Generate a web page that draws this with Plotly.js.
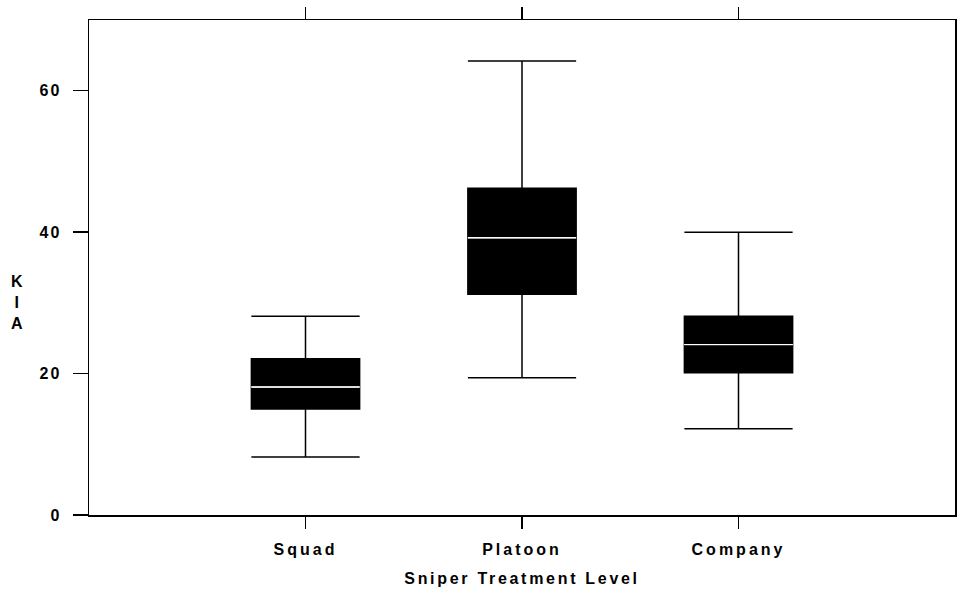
<!DOCTYPE html>
<html>
<head>
<meta charset="utf-8">
<script src="https://cdn.plot.ly/plotly-3.0.1.min.js"></script>
<style>
html,body{margin:0;padding:0;background:#fff;}
#chart{width:957px;height:597px;}
.xtick text{letter-spacing:3px;}
.g-xtitle text{letter-spacing:2.7px;}
.ytick text{letter-spacing:2px;}
</style>
</head>
<body>
<div id="chart"></div>
<script>
// Data
var categories = ["Squad", "Platoon", "Company"];
var lowerWhisker = [8.2, 19.4, 12.2];
var q1Values = [15.0, 31.2, 20.1];
var medianValues = [18.1, 39.2, 24.1];
var q3Values = [22.1, 46.2, 28.1];
var upperWhisker = [28.1, 64.2, 40.0];
var yTickValues = [0, 20, 40, 60];
var xTitle = "Sniper Treatment Level";
var yTitle = "K<br>I<br>A";

var boxes = {
  type: "box",
  x: categories,
  q1: q1Values,
  median: medianValues,
  q3: q3Values,
  lowerfence: lowerWhisker,
  upperfence: upperWhisker,
  fillcolor: "#000",
  line: {color: "#000", width: 1.5},
  whiskerwidth: 1,
  boxpoints: false,
  showlegend: false,
  hoverinfo: "skip"
};
// degenerate overlay box that only draws the white median line
var medians = {
  type: "box",
  x: categories,
  q1: medianValues,
  median: medianValues,
  q3: medianValues,
  lowerfence: medianValues,
  upperfence: medianValues,
  fillcolor: "rgba(0,0,0,0)",
  line: {color: "#fff", width: 1},
  whiskerwidth: 0,
  boxpoints: false,
  showlegend: false,
  hoverinfo: "skip"
};

var font = {family: "Liberation Sans, Arial, sans-serif", size: 16, color: "#000", weight: "bold"};

var layout = {
  width: 957, height: 597,
  margin: {l: 89, r: 2, t: 20, b: 82},
  paper_bgcolor: "#fff", plot_bgcolor: "#fff",
  boxmode: "overlay",
  boxgap: 0.5,
  boxgroupgap: 0,
  font: font,
  xaxis: {
    type: "category",
    range: [-1, 3],
    showgrid: false, zeroline: false,
    showline: true, linecolor: "#000", linewidth: 1.5,
    mirror: "ticks",
    ticks: "outside", ticklen: 12, tickwidth: 1.5, tickcolor: "#000",
    tickfont: font,
    ticklabelstandoff: 7,
    title: {text: xTitle, font: font, standoff: 16}
  },
  yaxis: {
    range: [0, 70],
    tickvals: yTickValues,
    showgrid: false, zeroline: false,
    showline: true, linecolor: "#000", linewidth: 1.5,
    mirror: true,
    ticks: "outside", ticklen: 15, tickwidth: 1.5, tickcolor: "#000",
    tickfont: font,
    ticklabelstandoff: 8
  },
  annotations: [{
    text: yTitle,
    xref: "paper", yref: "paper",
    x: -0.083, y: 0.43,
    xanchor: "center", yanchor: "middle",
    showarrow: false,
    font: font
  }]
};

Plotly.newPlot("chart", [boxes, medians], layout, {staticPlot: true, displayModeBar: false});
</script>
</body>
</html>
